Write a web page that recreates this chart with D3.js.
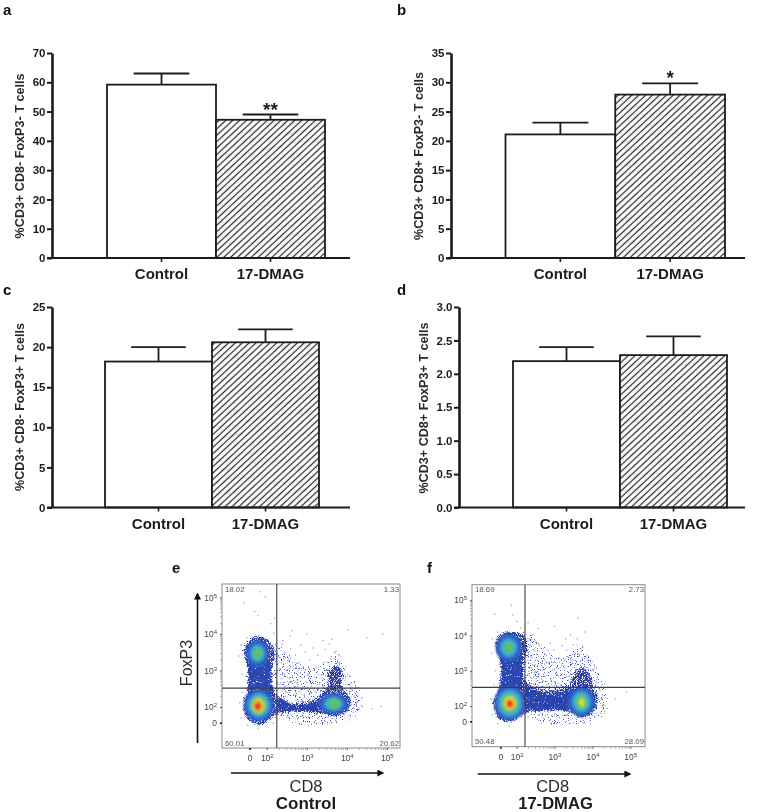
<!DOCTYPE html>
<html><head><meta charset="utf-8">
<script src="https://cdn.jsdelivr.net/npm/d3@7"></script>
<style>
html,body{margin:0;padding:0;background:#fff}
svg{display:block;font-family:"Liberation Sans",Arial,sans-serif;filter:blur(0.35px)}
</style></head><body><svg id="c" width="784" height="812"></svg>
<script>
// ---------- bar chart values ----------
const categories = ["Control", "17-DMAG"];
const meansA = [59.2, 47.2], topsA = [63.0, 49.0], ticksA = [0,10,20,30,40,50,60,70];
const meansB = [21.1, 27.9], topsB = [23.1, 29.8], ticksB = [0,5,10,15,20,25,30,35];
const meansC = [18.2, 20.6], topsC = [20.0, 22.2], ticksC = [0,5,10,15,20,25];
const meansD = [2.19, 2.28], topsD = [2.40, 2.56], ticksD = [0,0.5,1,1.5,2,2.5,3];

// ---------- flow cytometry values, all in log10 units ----------
const decadeTicks = [1.57, 2, 3, 4, 5];
const decadeLabels = ["0", "2", "3", "4", "5"];
const minorSteps = [0.3,0.48,0.6,0.7,0.78,0.85,0.9,0.95];
const quadE = ["18.02", "1.33", "60.01", "20.62"];
const quadF = ["18.69", "2.73", "50.48", "28.09"];
const cloudE = [[1.83,3.93],[2.08,3.79],[2.21,3.47],[2.13,3.02],[2.13,2.65],[2.25,2.29],[2.42,2.15],[2.83,2.11],[3.25,2.25],[3.54,2.61],[3.54,2.93],[3.75,3.15],[3.88,2.93],[3.88,2.56],[4.08,2.25],[4.04,1.93],[3.75,1.75],[3.33,1.84],[2.83,1.88],[2.29,1.84],[2.08,1.65],[1.75,1.52],[1.5,1.7],[1.42,2.02],[1.52,2.47],[1.52,3.02],[1.43,3.56],[1.58,3.84]];
const cloudF = [[1.82,4.10],[2.18,4.01],[2.28,3.68],[2.18,3.21],[2.22,2.74],[2.44,2.55],[2.96,2.45],[3.40,2.64],[3.49,2.92],[3.75,3.07],[3.97,2.83],[4.02,2.55],[4.15,2.17],[4.02,1.84],[3.71,1.68],[3.40,1.84],[2.88,1.89],[2.44,1.84],[2.18,1.79],[1.82,1.56],[1.52,1.65],[1.40,2.08],[1.54,2.55],[1.56,3.30],[1.43,3.68],[1.52,3.96]];
const hazeE = [[2.2,3.75],[2.55,3.45],[3.0,3.1],[3.5,3.2],[3.75,3.5],[4.0,3.0],[4.3,2.5],[4.35,1.9],[3.8,1.58],[2.4,1.68],[2.15,2.5]];
const hazeF = [[2.2,4.1],[2.7,3.7],[3.2,3.35],[3.6,3.75],[4.0,3.3],[4.3,2.6],[4.4,1.9],[3.8,1.5],[2.4,1.68],[2.15,2.6]];
// the stem of FoxP3+ events and the thick part of the CD8+ arm
const stemE = [[1.58,3.3],[2.02,3.3],[2.1,2.6],[2.1,2.3],[1.56,2.3],[1.55,2.7]];
const stemF = [[1.6,3.5],[2.08,3.5],[2.14,2.7],[2.14,2.3],[1.58,2.3],[1.62,2.9]];
const armE = [[2.3,2.25],[2.8,1.98],[3.3,2.12],[3.3,1.92],[2.8,1.9],[2.3,1.9]];
const armF = [[2.3,2.45],[2.9,2.3],[3.4,2.45],[3.4,1.9],[2.9,1.95],[2.3,1.9]];
// density level, centre x, centre y, spread x, spread y
const densityLevels = ["mid","cyan","green","yellow","orange","red"];
const densityColors = ["#2f5cc4","#38a8dc","#58c070","#d8e040","#f09028","#e4201c"];
const blobsE = [
 ["mid",1.80,2.05,.38,.44],["cyan",1.80,2.05,.28,.34],["green",1.80,2.05,.21,.26],["yellow",1.79,2.04,.15,.2],["orange",1.78,2.03,.11,.15],["red",1.77,2.02,.07,.10],
 ["mid",1.77,3.47,.29,.38],["cyan",1.77,3.47,.19,.25],["green",1.77,3.47,.13,.17],
 ["mid",3.67,2.09,.38,.28],["cyan",3.67,2.09,.25,.19],["green",3.68,2.09,.16,.17]];
const blobsF = [
 ["mid",1.82,2.08,.41,.48],["cyan",1.82,2.08,.32,.39],["green",1.82,2.08,.24,.28],["yellow",1.82,2.08,.16,.2],["orange",1.82,2.07,.11,.14],["red",1.82,2.06,.07,.10],
 ["mid",1.79,3.66,.35,.4],["cyan",1.79,3.66,.23,.28],["green",1.79,3.66,.15,.17],
 ["mid",3.71,2.12,.36,.42],["cyan",3.71,2.12,.25,.31],["green",3.71,2.12,.17,.23],["yellow",3.72,2.1,.07,.12]];
const specksE = [[2.3,3.6],[2.34,3.35],[2.38,3.72],[2.42,3.18],[2.45,3.48],[2.5,3.0],[2.52,2.82],[2.55,3.28],[2.6,3.6],[2.62,2.7],[2.66,3.12],[2.7,2.92],[2.72,3.42],[2.78,2.62],[2.8,3.22],[2.85,3.7],[2.88,2.8],[2.92,3.05],[2.96,3.5],[3.0,2.68],[3.04,2.9],[3.08,3.28],[3.12,2.58],[3.16,3.62],[3.2,2.8],[3.24,3.1],[3.28,3.42],[3.32,2.62],[3.38,2.88],[3.42,3.22],[3.46,3.58],[3.5,3.02],[3.56,3.72],[3.6,3.32],[3.7,3.5],[3.82,3.2],[2.26,2.9],[2.3,2.62],[2.33,3.05],[2.36,2.78],[2.4,2.48],[2.44,2.9],[2.48,2.58],[2.52,2.4],[2.56,2.66],[2.6,2.46],[2.64,2.86],[2.68,2.36],[2.72,2.56],[2.76,2.74],[2.84,2.42],[2.9,2.56],[2.94,2.32],[3.02,2.46],[3.1,2.38],[3.18,2.46],[3.26,2.5],[3.34,2.42],[3.42,2.56],[2.28,3.2],[2.4,3.82],[2.58,3.94],[3.0,4.0],[3.4,3.82],[3.62,3.86],[4.02,2.62],[4.12,2.48],[4.18,2.28],[4.24,2.1],[4.16,1.86],[4.4,2.0],[4.62,1.96],[4.86,2.02],[3.9,2.78],[2.18,4.02],[2.1,4.28],[1.78,4.5],[1.7,4.62],[1.42,4.86],[1.82,5.16],[1.96,5.02],[1.5,3.9],[1.36,3.7],[1.3,3.4],[1.38,2.9],[1.4,2.4],[1.32,2.12],[1.36,1.7],[1.52,1.5],[1.78,1.42],[2.16,1.56],[2.5,1.72],[2.9,1.76],[3.3,1.72],[3.72,1.64],[4.08,1.78],[4.9,4.0],[4.5,3.9],[4.02,4.12],[2.62,4.1],[2.2,4.44]];
const specksF = [[2.34,3.7],[2.37,3.42],[2.4,3.88],[2.44,3.16],[2.48,3.56],[2.5,2.98],[2.52,2.78],[2.56,3.3],[2.6,3.72],[2.63,2.66],[2.68,3.1],[2.72,2.9],[2.75,3.5],[2.8,2.6],[2.84,3.22],[2.88,3.78],[2.9,2.76],[2.94,3.02],[2.98,3.6],[3.02,2.66],[3.06,2.9],[3.12,3.36],[3.16,2.6],[3.2,3.72],[3.24,2.8],[3.28,3.08],[3.32,3.58],[3.36,2.72],[3.42,3.0],[3.46,3.3],[3.5,3.74],[3.54,3.16],[3.6,3.9],[3.66,3.46],[3.75,3.7],[3.88,3.3],[3.8,4.1],[3.3,3.9],[2.3,2.9],[2.34,2.64],[2.36,3.08],[2.4,2.78],[2.45,2.62],[2.48,2.86],[2.56,2.6],[2.6,2.9],[2.66,2.54],[2.7,2.72],[2.76,2.5],[2.86,2.52],[2.92,2.62],[3.0,2.5],[3.1,2.54],[3.2,2.7],[3.3,2.62],[3.38,2.84],[2.3,3.3],[2.42,4.02],[2.56,4.2],[3.0,4.26],[3.42,4.02],[4.1,2.7],[4.2,2.44],[4.24,2.2],[4.3,2.02],[4.22,1.8],[4.6,2.2],[4.9,2.4],[3.96,3.0],[2.1,4.22],[2.0,4.4],[1.9,4.58],[1.86,4.86],[1.42,4.6],[1.5,4.1],[1.36,3.9],[1.34,3.5],[1.44,3.0],[1.4,2.6],[1.32,2.2],[1.36,1.76],[1.5,1.5],[1.8,1.44],[2.3,1.7],[2.6,1.76],[3.0,1.78],[3.3,1.74],[3.7,1.58],[4.06,1.7],[3.62,4.5],[2.3,4.36]];

const svg = d3.select("#c");
const defs = svg.append("defs");
const HS = 4.7;
const hatch = defs.append("pattern").attr("id","hatch").attr("patternUnits","userSpaceOnUse")
  .attr("width",HS).attr("height",HS).attr("patternTransform","rotate(-43)");
hatch.append("rect").attr("width",HS).attr("height",HS).attr("fill","#fff");
hatch.append("line").attr("x1",0).attr("x2",HS).attr("y1",HS/2).attr("y2",HS/2).attr("stroke","#2a2a2a").attr("stroke-width",1.25);
function stipple(id, slope, cut, seed, blur){
  const f = defs.append("filter").attr("id",id).attr("x","-10%").attr("y","-10%").attr("width","120%").attr("height","120%");
  f.append("feTurbulence").attr("type","fractalNoise").attr("baseFrequency",0.85).attr("numOctaves",2).attr("seed",seed).attr("result","n");
  f.append("feColorMatrix").attr("in","n").attr("type","matrix")
    .attr("values",`0 0 0 0 0  0 0 0 0 0  0 0 0 0 0  ${slope} 0 0 0 ${cut}`).attr("result","mask");
  f.append("feDisplacementMap").attr("in","SourceGraphic").attr("in2","n").attr("scale",7).attr("result","d");
  f.append("feComposite").attr("in","d").attr("in2","mask").attr("operator","in").attr("result","c");
  f.append("feGaussianBlur").attr("in","c").attr("stdDeviation",blur);
}
stipple("stipCloud",9,-3.3,4,0.5);
stipple("stipHaze",12,-7.3,9,0.4);
stipple("stipStem",9,-2.7,6,0.45);
const grain = defs.append("filter").attr("id","grain").attr("x","-10%").attr("y","-10%").attr("width","120%").attr("height","120%");
grain.append("feTurbulence").attr("type","fractalNoise").attr("baseFrequency",0.7).attr("numOctaves",2).attr("seed",4).attr("result","n");
grain.append("feDisplacementMap").attr("in","SourceGraphic").attr("in2","n").attr("scale",6).attr("result","d");
grain.append("feGaussianBlur").attr("in","d").attr("stdDeviation",0.9);
const soft = defs.append("filter").attr("id","soft").attr("x","-20%").attr("y","-20%").attr("width","140%").attr("height","140%");
soft.append("feGaussianBlur").attr("stdDeviation",1.7);
const arrowHead = defs.append("marker").attr("id","ah").attr("viewBox","0 0 10 10").attr("refX",8).attr("refY",5)
  .attr("markerWidth",8).attr("markerHeight",7).attr("markerUnits","userSpaceOnUse").attr("orient","auto");
arrowHead.append("path").attr("d","M0,0L10,5L0,10Z").attr("fill","#111");

const INK = "#1c1c1c";
function barPanel(o){
  const g = svg.append("g");
  const y = d3.scaleLinear().domain([0,o.ticks[o.ticks.length-1]]).range([o.bottom,o.top]);
  const x = d3.scaleBand().domain(categories).range(o.bars);
  const fills = ["#fff","url(#hatch)"];
  g.selectAll("rect.bar").data(categories).join("rect").attr("class","bar")
    .attr("x",d=>x(d)).attr("width",x.bandwidth())
    .attr("y",(d,i)=>y(o.means[i])).attr("height",(d,i)=>y(0)-y(o.means[i]))
    .attr("fill",(d,i)=>fills[i]).attr("stroke",INK).attr("stroke-width",1.8);
  categories.forEach((c,i)=>{
    const cx = x(c)+x.bandwidth()/2, w = x.bandwidth()*0.255;
    g.append("line").attr("x1",cx).attr("x2",cx).attr("y1",y(o.means[i])).attr("y2",y(o.tops[i])).attr("stroke",INK).attr("stroke-width",1.8);
    g.append("line").attr("x1",cx-w).attr("x2",cx+w).attr("y1",y(o.tops[i])).attr("y2",y(o.tops[i])).attr("stroke",INK).attr("stroke-width",1.8);
  });
  const ya = g.append("g").attr("transform",`translate(${o.axisX},0)`)
    .call(d3.axisLeft(y).tickValues(o.ticks).tickSize(5).tickPadding(1.5).tickSizeOuter(0).tickFormat(o.fmt));
  ya.selectAll("path,line").attr("stroke",INK).attr("stroke-width",2);
  ya.select("path").attr("stroke-width",2.6);
  ya.selectAll("text").attr("font-size",11.5).attr("font-weight","bold").attr("font-family","Liberation Sans").attr("fill",INK);
  const xa = g.append("g").attr("transform",`translate(0,${o.bottom})`)
    .call(d3.axisBottom(x).tickSize(4).tickPadding(6.5).tickSizeOuter(0));
  xa.select("path").remove();
  xa.selectAll("line").attr("stroke",INK).attr("stroke-width",1.6);
  xa.selectAll("text").attr("font-size",15).attr("font-weight","bold").attr("font-family","Liberation Sans").attr("fill",INK);
  g.append("line").attr("x1",o.axisX-5).attr("x2",o.xEnd).attr("y1",o.bottom).attr("y2",o.bottom).attr("stroke",INK).attr("stroke-width",2);
  g.append("text").attr("transform",`translate(${o.labelX},${o.labelY}) rotate(-90)`).attr("text-anchor","middle")
    .attr("font-size",12.6).attr("font-weight","bold").attr("fill","#2a2a2a").text(o.title);
  g.append("text").attr("x",o.letterX).attr("y",o.letterY).attr("font-size",15).attr("font-weight","bold").attr("fill","#111").text(o.letter);
  if(o.star){
    const cx = x(categories[1])+x.bandwidth()/2;
    g.append("text").attr("x",cx).attr("y",y(o.tops[1])+1).attr("text-anchor","middle")
      .attr("font-size",19).attr("font-weight","bold").attr("fill",INK).text(o.star);
  }
}
const f0 = d3.format("d"), f1 = d3.format(".1f");
barPanel({means:meansA,tops:topsA,ticks:ticksA,top:53,bottom:258,axisX:52,bars:[107,325],xEnd:350,fmt:f0,
  title:"%CD3+ CD8- FoxP3- T cells",labelX:24,labelY:156,letter:"a",letterX:3,letterY:15,star:"**"});
barPanel({means:meansB,tops:topsB,ticks:ticksB,top:53,bottom:258,axisX:451,bars:[505.5,725],xEnd:745,fmt:f0,
  title:"%CD3+ CD8+ FoxP3- T cells",labelX:423,labelY:156,letter:"b",letterX:397,letterY:15,star:"*"});
barPanel({means:meansC,tops:topsC,ticks:ticksC,top:307,bottom:507.5,axisX:52,bars:[105,319],xEnd:350,fmt:f0,
  title:"%CD3+ CD8- FoxP3+ T cells",labelX:24,labelY:407,letter:"c",letterX:3,letterY:295});
barPanel({means:meansD,tops:topsD,ticks:ticksD,top:307,bottom:507.5,axisX:459,bars:[513,727],xEnd:745,fmt:f1,
  title:"%CD3+ CD8+ FoxP3+ T cells",labelX:428,labelY:408,letter:"d",letterX:397,letterY:295});

function flowPanel(o){
  const g = svg.append("g");
  const x = d3.scaleLinear().domain(o.xDom).range(o.xRange);
  const y = d3.scaleLinear().domain(o.yDom).range(o.yRange);
  const cid = "clip"+o.letter;
  defs.append("clipPath").attr("id",cid).append("rect").attr("x",o.xRange[0]).attr("y",o.yRange[1])
    .attr("width",o.xRange[1]-o.xRange[0]).attr("height",o.yRange[0]-o.yRange[1]);
  const plot = g.append("g").attr("clip-path",`url(#${cid})`);
  const color = d3.scaleOrdinal().domain(densityLevels).range(densityColors);
  const line = d3.line().x(d=>x(d[0])).y(d=>y(d[1])).curve(d3.curveCatmullRomClosed);
  plot.append("path").attr("d",line(o.haze)).attr("fill","#4a54b8").attr("filter","url(#stipHaze)");
  plot.append("g").selectAll("circle").data(o.specks).join("circle")
    .attr("cx",d=>x(d[0])).attr("cy",d=>y(d[1])).attr("r",0.75).attr("fill","#4450b8").attr("opacity",0.55);
  plot.append("path").attr("d",line(o.cloud)).attr("fill","#2a3aa8").attr("filter","url(#stipCloud)");
  plot.append("path").attr("d",line(o.stem)).attr("fill","#2a48b4").attr("filter","url(#stipStem)");
  plot.append("path").attr("d",line(o.arm)).attr("fill","#2a44b0").attr("filter","url(#stipStem)");
  const mid = o.blobs.filter(d=>d[0]==="mid"), rest = o.blobs.filter(d=>d[0]!=="mid");
  const ell = (sel,data)=>sel.selectAll("ellipse").data(data).join("ellipse")
    .attr("cx",d=>x(d[1])).attr("cy",d=>y(d[2]))
    .attr("rx",d=>Math.abs(x(d[1]+d[3])-x(d[1]))).attr("ry",d=>Math.abs(y(d[2]+d[4])-y(d[2])))
    .attr("fill",d=>color(d[0]));
  ell(plot.append("g").attr("filter","url(#grain)"),mid);
  ell(plot.append("g").attr("filter","url(#soft)"),rest);
  g.append("rect").attr("x",o.xRange[0]).attr("y",o.yRange[1]).attr("width",o.xRange[1]-o.xRange[0]).attr("height",o.yRange[0]-o.yRange[1])
    .attr("fill","none").attr("stroke","#8a8a8a").attr("stroke-width",1);
  g.append("line").attr("x1",x(o.gate[0])).attr("x2",x(o.gate[0])).attr("y1",o.yRange[0]).attr("y2",o.yRange[1]).attr("stroke","#3c3c44").attr("stroke-width",1.1);
  g.append("line").attr("y1",y(o.gate[1])).attr("y2",y(o.gate[1])).attr("x1",o.xRange[0]).attr("x2",o.xRange[1]).attr("stroke","#3c3c44").attr("stroke-width",1.1);
  const decades = [2,3,4];
  const minors = decades.flatMap(k=>minorSteps.map(s=>k+s));
  g.append("g").attr("transform",`translate(0,${o.yRange[0]})`).call(d3.axisBottom(x).tickValues(minors).tickSize(2).tickFormat(""))
    .call(a=>{a.select("path").remove();a.selectAll("line").attr("stroke","#aaa");});
  g.append("g").attr("transform",`translate(${o.xRange[0]},0)`).call(d3.axisLeft(y).tickValues(minors).tickSize(2).tickFormat(""))
    .call(a=>{a.select("path").remove();a.selectAll("line").attr("stroke","#aaa");});
  const power = sel => sel.selectAll(".tick text").each(function(d,i){
    const t = d3.select(this).text(null);
    if(i===0){ t.text("0"); return; }
    t.append("tspan").text("10");
    t.append("tspan").attr("dy",-3).attr("font-size",6).text(decadeLabels[i]);
  });
  const xa = g.append("g").attr("transform",`translate(0,${o.yRange[0]})`)
    .call(d3.axisBottom(x).tickValues(decadeTicks).tickSize(2).tickPadding(o.xPad));
  xa.call(power); xa.select("path").remove();
  const ya = g.append("g").attr("transform",`translate(${o.xRange[0]},0)`)
    .call(d3.axisLeft(y).tickValues(decadeTicks).tickSize(2).tickPadding(3));
  ya.call(power); ya.select("path").remove();
  [xa,ya].forEach(a=>{
    a.selectAll("line").attr("stroke","#555");
    a.selectAll(".tick:first-of-type line").attr("stroke","#111").attr("stroke-width",1.6);
    a.selectAll("text").attr("font-size",8.5).attr("font-family","Liberation Sans").attr("fill","#444");
  });
  const q = g.append("g").attr("font-size",7.8).attr("fill","#555");
  q.append("text").attr("x",o.xRange[0]+3).attr("y",o.yRange[1]+7.5).text(o.quad[0]);
  q.append("text").attr("x",o.xRange[1]-1).attr("y",o.yRange[1]+7.5).attr("text-anchor","end").text(o.quad[1]);
  q.append("text").attr("x",o.xRange[0]+3).attr("y",o.yRange[0]-2.5).text(o.quad[2]);
  q.append("text").attr("x",o.xRange[1]-1).attr("y",o.yRange[0]-2.5).attr("text-anchor","end").text(o.quad[3]);
  g.append("line").attr("x1",o.xArrow[0]).attr("x2",o.xArrow[1]).attr("y1",o.xArrow[2]).attr("y2",o.xArrow[2])
    .attr("stroke","#111").attr("stroke-width",1.6).attr("marker-end","url(#ah)");
  g.append("text").attr("x",o.cdX).attr("y",791.5).attr("text-anchor","middle").attr("font-size",16.5).attr("fill","#2a2a2a").text("CD8");
  g.append("text").attr("x",o.nameX).attr("y",808.5).attr("text-anchor","middle").attr("font-size",o.nameSize).attr("font-weight","bold").attr("fill","#1c1c1c").text(o.name);
  g.append("text").attr("x",o.letterX).attr("y",573).attr("font-size",15).attr("font-weight","bold").attr("fill","#111").text(o.letter);
  if(o.foxArrow){
    g.append("line").attr("x1",o.foxArrow[0]).attr("x2",o.foxArrow[0]).attr("y1",o.foxArrow[1]).attr("y2",o.foxArrow[2])
      .attr("stroke","#111").attr("stroke-width",1.6).attr("marker-end","url(#ah)");
    g.append("text").attr("transform",`translate(191.5,663) rotate(-90)`).attr("text-anchor","middle").attr("font-size",16).attr("fill","#2a2a2a").text("FoxP3");
  }
}
flowPanel({letter:"e",letterX:172,name:"Control",nameX:306,nameSize:17,cdX:306,cloud:cloudE,haze:hazeE,stem:stemE,arm:armE,blobs:blobsE,specks:specksE,quad:quadE,
  xDom:[0.88,5.33],xRange:[222,400],yDom:[0.88,5.37],yRange:[748,584],gate:[2.25,2.52],xPad:5,xArrow:[231,383,773],foxArrow:[197.5,743,594]});
flowPanel({letter:"f",letterX:427,name:"17-DMAG",nameX:555.5,nameSize:16.6,cdX:552.7,cloud:cloudF,haze:hazeF,stem:stemF,arm:armF,blobs:blobsF,specks:specksF,quad:quadF,
  xDom:[0.82,5.39],xRange:[472,645],yDom:[0.85,5.44],yRange:[746.7,584.7],gate:[2.22,2.53],xPad:5,xArrow:[477.7,630,774]});
</script></body></html>
